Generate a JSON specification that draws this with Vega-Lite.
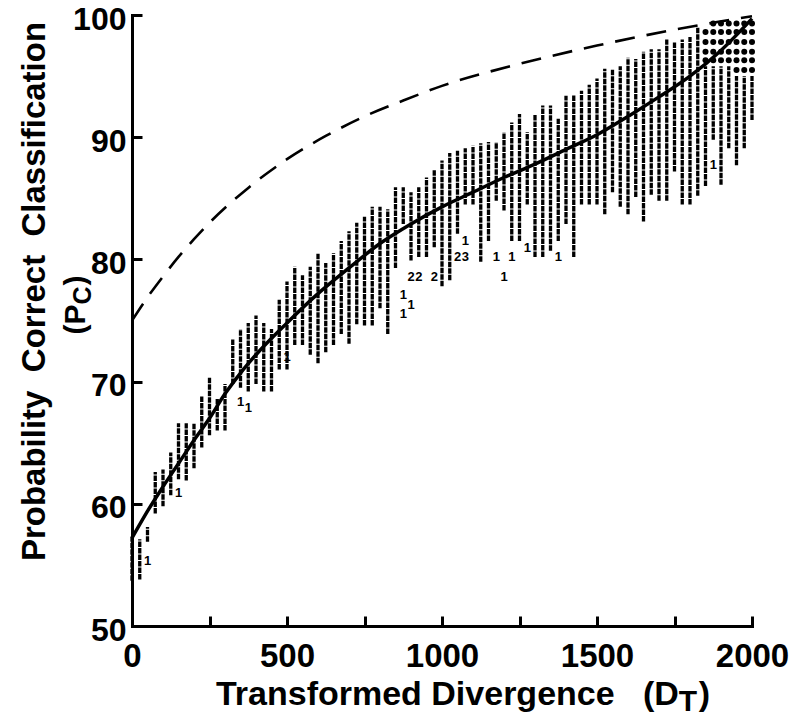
{
  "$schema": "https://vega.github.io/schema/vega-lite/v6.json",
  "width": 620,
  "height": 611,
  "autosize": "none",
  "padding": {"left": 132, "top": 15, "right": 48, "bottom": 91},
  "background": "white",
  "config": {
    "view": {"stroke": null},
    "font": "Liberation Sans",
    "axis": {
      "domainColor": "black", "domainWidth": 3, "domainCap": "square",
      "tickColor": "black", "tickWidth": 3, "tickSize": -10,
      "labelFont": "Liberation Sans", "labelFontWeight": "bold", "labelFontSize": 33, "labelColor": "black",
      "labelFlush": false, "labelOverlap": false, "grid": false,
      "titleFont": "Liberation Sans", "titleFontWeight": "bold", "titleFontSize": 33, "titleColor": "black"
    },
    "axisX": {"labelPadding": 24},
    "axisY": {"labelPadding": 16, "labelFontSize": 32, "labelOffset": 4}
  },
  "datasets": {
    "columns": [
      {"x":0,"lo":53.7,"hi":57.3},{"x":25,"lo":53.8,"hi":57.1},{"x":50,"lo":56.9,"hi":58.1},{"x":75,"lo":59.2,"hi":62.6},
      {"x":100,"lo":59.8,"hi":62.8},{"x":125,"lo":60.7,"hi":64.2},{"x":150,"lo":62.0,"hi":66.6},{"x":175,"lo":61.9,"hi":66.6},
      {"x":200,"lo":62.9,"hi":66.6},{"x":225,"lo":64.6,"hi":68.8},{"x":250,"lo":65.6,"hi":70.4},{"x":275,"lo":66.0,"hi":68.6},
      {"x":300,"lo":66.0,"hi":69.8},{"x":325,"lo":69.8,"hi":73.5},{"x":350,"lo":69.5,"hi":74.3},{"x":375,"lo":69.2,"hi":74.8},
      {"x":400,"lo":69.8,"hi":75.4},{"x":425,"lo":69.2,"hi":74.8},{"x":450,"lo":69.2,"hi":74.3},{"x":475,"lo":71.0,"hi":76.7},
      {"x":500,"lo":71.0,"hi":78.2},{"x":525,"lo":73.0,"hi":79.4},{"x":550,"lo":73.0,"hi":78.7},{"x":575,"lo":72.2,"hi":79.4},
      {"x":600,"lo":71.5,"hi":80.5},{"x":625,"lo":72.4,"hi":79.7},{"x":650,"lo":73.0,"hi":80.5},{"x":675,"lo":73.9,"hi":81.5},
      {"x":700,"lo":73.1,"hi":82.3},{"x":725,"lo":74.7,"hi":83.0},{"x":750,"lo":74.6,"hi":83.5},{"x":775,"lo":74.6,"hi":84.3},
      {"x":800,"lo":76.0,"hi":84.3},{"x":825,"lo":73.9,"hi":84.1},{"x":850,"lo":79.3,"hi":85.9},{"x":875,"lo":82.9,"hi":85.9},
      {"x":900,"lo":79.9,"hi":85.5},{"x":925,"lo":80.2,"hi":85.9},{"x":950,"lo":80.2,"hi":86.7},{"x":975,"lo":81.0,"hi":87.3},
      {"x":1000,"lo":77.8,"hi":88.1},{"x":1025,"lo":78.3,"hi":88.7},{"x":1050,"lo":82.1,"hi":88.9},{"x":1075,"lo":84.5,"hi":89.1},
      {"x":1100,"lo":84.5,"hi":89.3},{"x":1125,"lo":79.8,"hi":89.5},{"x":1150,"lo":81.5,"hi":89.6},{"x":1175,"lo":84.8,"hi":89.6},
      {"x":1200,"lo":84.0,"hi":90.4},{"x":1225,"lo":81.5,"hi":91.2},{"x":1250,"lo":81.5,"hi":91.9},{"x":1275,"lo":84.5,"hi":90.4},
      {"x":1300,"lo":80.2,"hi":91.9},{"x":1325,"lo":80.2,"hi":92.6},{"x":1350,"lo":80.7,"hi":92.6},{"x":1375,"lo":81.5,"hi":91.5},
      {"x":1400,"lo":82.9,"hi":93.4},{"x":1425,"lo":80.2,"hi":93.5},{"x":1450,"lo":84.5,"hi":93.8},{"x":1475,"lo":84.5,"hi":94.3},
      {"x":1500,"lo":84.5,"hi":94.8},{"x":1525,"lo":83.7,"hi":95.6},{"x":1550,"lo":85.5,"hi":95.6},{"x":1575,"lo":84.3,"hi":95.8},
      {"x":1600,"lo":83.7,"hi":96.5},{"x":1625,"lo":85.1,"hi":96.4},{"x":1650,"lo":83.1,"hi":97.0},{"x":1675,"lo":85.3,"hi":97.2},
      {"x":1700,"lo":84.8,"hi":97.2},{"x":1725,"lo":84.8,"hi":98.0},{"x":1750,"lo":87.2,"hi":97.8},{"x":1775,"lo":84.5,"hi":98.0},
      {"x":1800,"lo":84.5,"hi":98.2},{"x":1825,"lo":85.2,"hi":99.0},{"x":1850,"lo":86.0,"hi":95.8},{"x":1875,"lo":89.8,"hi":95.8},
      {"x":1900,"lo":86.1,"hi":95.8},{"x":1925,"lo":89.1,"hi":95.8},{"x":1950,"lo":87.7,"hi":95.0},{"x":1975,"lo":89.1,"hi":95.0},
      {"x":2000,"lo":91.4,"hi":95.0}
    ],
    "outliers": [
      {"x":50,"y":55.3,"t":"1"},{"x":150,"y":60.9,"t":"1"},{"x":350,"y":68.3,"t":"1"},{"x":375,"y":67.8,"t":"1"},
      {"x":500,"y":72.0,"t":"1"},{"x":875,"y":77.1,"t":"1"},{"x":875,"y":75.5,"t":"1"},{"x":900,"y":76.3,"t":"1"},
      {"x":900,"y":78.6,"t":"2"},{"x":925,"y":78.6,"t":"2"},{"x":975,"y":78.6,"t":"2"},{"x":1050,"y":80.2,"t":"2"},
      {"x":1075,"y":80.2,"t":"3"},{"x":1075,"y":81.5,"t":"1"},{"x":1175,"y":80.2,"t":"1"},{"x":1200,"y":78.6,"t":"1"},
      {"x":1225,"y":80.2,"t":"1"},{"x":1275,"y":80.9,"t":"1"},{"x":1375,"y":80.2,"t":"1"},{"x":1875,"y":87.7,"t":"1"}
    ],
    "dots": [
      {"x":1850,"y":98.6},{"x":1850,"y":97.8},{"x":1850,"y":97.0},{"x":1850,"y":96.3},
      {"x":1875,"y":99.3},{"x":1875,"y":98.6},{"x":1875,"y":97.8},{"x":1875,"y":97.0},{"x":1875,"y":96.3},
      {"x":1900,"y":99.3},{"x":1900,"y":98.6},{"x":1900,"y":97.8},{"x":1900,"y":97.0},{"x":1900,"y":96.3},
      {"x":1925,"y":99.3},{"x":1925,"y":98.6},{"x":1925,"y":97.8},{"x":1925,"y":97.0},{"x":1925,"y":96.3},
      {"x":1950,"y":99.3},{"x":1950,"y":98.6},{"x":1950,"y":97.8},{"x":1950,"y":97.0},{"x":1950,"y":96.3},{"x":1950,"y":95.5},
      {"x":1975,"y":99.3},{"x":1975,"y":98.6},{"x":1975,"y":97.8},{"x":1975,"y":97.0},{"x":1975,"y":96.3},{"x":1975,"y":95.5},
      {"x":2000,"y":99.3},{"x":2000,"y":98.6},{"x":2000,"y":97.8},{"x":2000,"y":97.0},{"x":2000,"y":96.3},{"x":2000,"y":95.5}
    ],
    "fit": [
      {"x":0,"y":57.2},{"x":50,"y":59.4},{"x":100,"y":61.4},{"x":150,"y":63.3},{"x":200,"y":65.2},{"x":250,"y":67.0},
      {"x":300,"y":69.0},{"x":350,"y":70.7},{"x":400,"y":72.2},{"x":500,"y":74.8},{"x":600,"y":77.2},{"x":700,"y":79.3},
      {"x":800,"y":81.3},{"x":900,"y":82.9},{"x":1000,"y":84.3},{"x":1100,"y":85.5},{"x":1200,"y":86.7},{"x":1300,"y":87.8},
      {"x":1400,"y":89.0},{"x":1500,"y":90.2},{"x":1600,"y":91.7},{"x":1700,"y":93.3},{"x":1800,"y":95.0},{"x":1900,"y":97.1},
      {"x":2000,"y":99.7}
    ],
    "upper": [
      {"x":0,"y":75.0},{"x":50,"y":76.9},{"x":100,"y":78.6},{"x":150,"y":80.2},{"x":200,"y":81.65},{"x":250,"y":83.0},
      {"x":375,"y":85.85},{"x":500,"y":88.2},{"x":625,"y":90.1},{"x":750,"y":91.7},{"x":875,"y":93.0},{"x":1000,"y":94.2},
      {"x":1250,"y":96.0},{"x":1500,"y":97.5},{"x":1750,"y":98.8},{"x":2000,"y":99.9}
    ]
  },
  "layer": [
    {
      "data": {"name": "columns"},
      "mark": {"type": "rule", "color": "black", "strokeWidth": 3.3, "strokeDash": [5.5, 1]},
      "encoding": {
        "x": {"field": "x", "type": "quantitative", "scale": {"domain": [0, 2000], "nice": false, "zero": false},
              "axis": {"title": null, "values": [0,250,500,750,1000,1250,1500,1750,2000], "format": "d",
                       "labelExpr": "datum.value % 500 === 0 ? datum.label : ''"}},
        "y": {"field": "lo", "type": "quantitative", "scale": {"domain": [50, 100], "nice": false, "zero": false},
              "axis": {"title": "Probability\u00a0 Correct\u00a0 Classification", "values": [50,60,70,80,90,100],
                       "titleAngle": 270, "titleX": -88, "titleY": 276, "titleBaseline": "alphabetic", "titleAlign": "center"}},
        "y2": {"field": "hi"}
      }
    },
    {
      "data": {"name": "outliers"},
      "mark": {"type": "text", "color": "black", "font": "Liberation Sans", "fontWeight": "bold", "fontSize": 13, "baseline": "middle"},
      "encoding": {
        "x": {"field": "x", "type": "quantitative", "scale": {"domain": [0, 2000], "nice": false, "zero": false}},
        "y": {"field": "y", "type": "quantitative", "scale": {"domain": [50, 100], "nice": false, "zero": false}},
        "text": {"field": "t"}
      }
    },
    {
      "data": {"name": "dots"},
      "mark": {"type": "point", "shape": "circle", "filled": true, "color": "black", "opacity": 1, "size": 36},
      "encoding": {
        "x": {"field": "x", "type": "quantitative", "scale": {"domain": [0, 2000], "nice": false, "zero": false}},
        "y": {"field": "y", "type": "quantitative", "scale": {"domain": [50, 100], "nice": false, "zero": false}}
      }
    },
    {
      "data": {"name": "upper"},
      "mark": {"type": "line", "color": "black", "strokeWidth": 2.6, "strokeDash": [20, 12], "interpolate": "monotone"},
      "encoding": {
        "x": {"field": "x", "type": "quantitative", "scale": {"domain": [0, 2000], "nice": false, "zero": false}},
        "y": {"field": "y", "type": "quantitative", "scale": {"domain": [50, 100], "nice": false, "zero": false}}
      }
    },
    {
      "data": {"name": "fit"},
      "mark": {"type": "line", "color": "black", "strokeWidth": 3.5, "interpolate": "monotone"},
      "encoding": {
        "x": {"field": "x", "type": "quantitative", "scale": {"domain": [0, 2000], "nice": false, "zero": false}},
        "y": {"field": "y", "type": "quantitative", "scale": {"domain": [50, 100], "nice": false, "zero": false}}
      }
    },
    {
      "data": {"values": [{}]},
      "mark": {"type": "text", "text": "Transformed Divergence\u00a0\u00a0 (D", "align": "right", "baseline": "alphabetic",
               "font": "Liberation Sans", "fontWeight": "bold", "fontSize": 34, "color": "black"},
      "encoding": {
        "x": {"datum": 1764, "type": "quantitative", "scale": {"domain": [0, 2000], "nice": false, "zero": false}},
        "y": {"datum": 43.55, "type": "quantitative", "scale": {"domain": [50, 100], "nice": false, "zero": false}}
      }
    },
    {
      "data": {"values": [{}]},
      "mark": {"type": "text", "text": "T", "align": "left", "baseline": "alphabetic", "dy": 6,
               "font": "Liberation Sans", "fontWeight": "bold", "fontSize": 30, "color": "black"},
      "encoding": {
        "x": {"datum": 1764, "type": "quantitative", "scale": {"domain": [0, 2000], "nice": false, "zero": false}},
        "y": {"datum": 43.55, "type": "quantitative", "scale": {"domain": [50, 100], "nice": false, "zero": false}}
      }
    },
    {
      "data": {"values": [{}]},
      "mark": {"type": "text", "text": ")", "align": "left", "baseline": "alphabetic", "dx": 20,
               "font": "Liberation Sans", "fontWeight": "bold", "fontSize": 34, "color": "black"},
      "encoding": {
        "x": {"datum": 1764, "type": "quantitative", "scale": {"domain": [0, 2000], "nice": false, "zero": false}},
        "y": {"datum": 43.55, "type": "quantitative", "scale": {"domain": [50, 100], "nice": false, "zero": false}}
      }
    },
    {
      "data": {"values": [{}]},
      "mark": {"type": "text", "text": "(P", "align": "right", "baseline": "alphabetic", "angle": 270,
               "font": "Liberation Sans", "fontWeight": "bold", "fontSize": 30, "color": "black"},
      "encoding": {
        "x": {"datum": -153, "type": "quantitative", "scale": {"domain": [0, 2000], "nice": false, "zero": false}},
        "y": {"datum": 76.3, "type": "quantitative", "scale": {"domain": [50, 100], "nice": false, "zero": false}}
      }
    },
    {
      "data": {"values": [{}]},
      "mark": {"type": "text", "text": "C", "align": "left", "baseline": "alphabetic", "angle": 270, "dy": 6,
               "font": "Liberation Sans", "fontWeight": "bold", "fontSize": 25, "color": "black"},
      "encoding": {
        "x": {"datum": -153, "type": "quantitative", "scale": {"domain": [0, 2000], "nice": false, "zero": false}},
        "y": {"datum": 76.3, "type": "quantitative", "scale": {"domain": [50, 100], "nice": false, "zero": false}}
      }
    },
    {
      "data": {"values": [{}]},
      "mark": {"type": "text", "text": ")", "align": "left", "baseline": "alphabetic", "angle": 270, "dx": 19,
               "font": "Liberation Sans", "fontWeight": "bold", "fontSize": 30, "color": "black"},
      "encoding": {
        "x": {"datum": -153, "type": "quantitative", "scale": {"domain": [0, 2000], "nice": false, "zero": false}},
        "y": {"datum": 76.3, "type": "quantitative", "scale": {"domain": [50, 100], "nice": false, "zero": false}}
      }
    }
  ]
}
